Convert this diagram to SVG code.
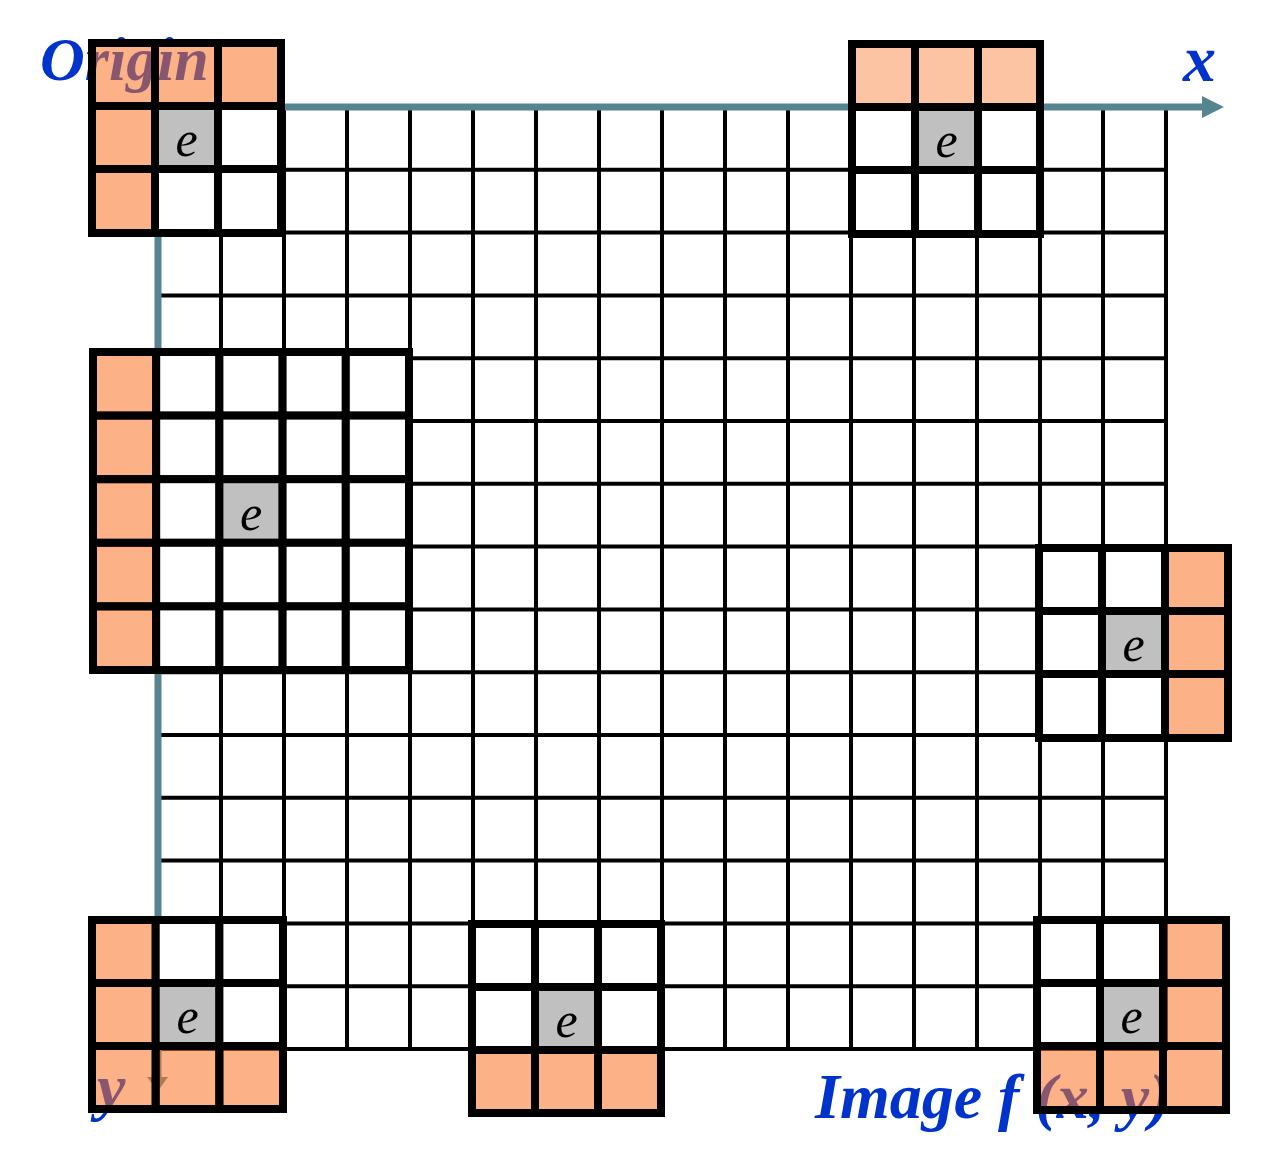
<svg xmlns="http://www.w3.org/2000/svg" width="1264" height="1170" viewBox="0 0 1264 1170">
<style>
.g{stroke:#000;stroke-width:4;fill:none}
.ax{stroke:#568490;stroke-width:7;fill:none}
.ah{fill:#568490}
.lbl{font-family:"Liberation Serif","Times New Roman",serif;font-weight:bold;font-style:italic;fill:#0033CC}
.c{stroke:#000;stroke-width:8}
.w{fill:#fff}
.o{fill:#F97323;fill-opacity:0.55}
.ol{fill:#F97323;fill-opacity:0.42}
.gr{fill:#C0C0C0}
.e{font-family:"Liberation Serif","Times New Roman",serif;font-style:italic;font-size:50px;fill:#000;text-anchor:middle}
</style>
<rect width="1264" height="1170" fill="#fff"/>
<g id="grid">
<path class="g" d="M221 107V1049M284 107V1049M347 107V1049M410 107V1049M473 107V1049M536 107V1049M599 107V1049M662 107V1049M725 107V1049M788 107V1049M851 107V1049M914 107V1049M977 107V1049M1040 107V1049M1103 107V1049M1166 107V1051"/>
<path class="g" d="M158 169.8H1166M158 232.6H1166M158 295.4H1166M158 358.2H1166M158 421H1166M158 483.8H1166M158 546.6H1166M158 609.4H1166M158 672.2H1166M158 735H1166M158 797.8H1166M158 860.6H1166M158 923.4H1166M158 986.2H1166M158 1049H1168"/>
</g>
<g id="connectors">
<path class="ax" d="M158 107H1205"/>
<polygon class="ah" points="1202,96 1224,107 1202,118"/>
<path class="ax" d="M158 107V1080"/>
<polygon class="ah" points="147,1077 158,1091 168,1077"/>
</g>
<g id="labels">
<text class="lbl" x="40" y="80" font-size="62">Origin</text>
<text class="lbl" x="1183" y="81" font-size="66">x</text>
<text class="lbl" x="97" y="1108" font-size="64">y</text>
<text class="lbl" x="815" y="1118" font-size="64">Image f (x, y)</text>
</g>
<g id="kernel-top-left" transform="translate(92,43)">
<rect class="c o" x="0" y="0" width="63" height="63"/><rect class="c o" x="63" y="0" width="63" height="63"/><rect class="c o" x="126" y="0" width="63" height="63"/>
<rect class="c o" x="0" y="63" width="63" height="63"/><rect class="c gr" x="63" y="63" width="63" height="63"/><rect class="c w" x="126" y="63" width="63" height="63"/>
<rect class="c o" x="0" y="126" width="63" height="64"/><rect class="c w" x="63" y="126" width="63" height="64"/><rect class="c w" x="126" y="126" width="63" height="64"/>
<text class="e" x="94.5" y="113">e</text>
</g>
<g id="kernel-top-right" transform="translate(852,44)">
<rect class="c ol" x="0" y="0" width="63" height="63"/><rect class="c ol" x="63" y="0" width="63" height="63"/><rect class="c ol" x="126" y="0" width="62" height="63"/>
<rect class="c w" x="0" y="63" width="63" height="63"/><rect class="c gr" x="63" y="63" width="63" height="63"/><rect class="c w" x="126" y="63" width="62" height="63"/>
<rect class="c w" x="0" y="126" width="63" height="64"/><rect class="c w" x="63" y="126" width="63" height="64"/><rect class="c w" x="126" y="126" width="62" height="64"/>
<text class="e" x="94.5" y="113">e</text>
</g>
<g id="kernel-mid-left" transform="translate(93,352)">
<rect class="c o" x="0" y="0" width="63.2" height="63.6"/><rect class="c w" x="63.2" y="0" width="63.2" height="63.6"/><rect class="c w" x="126.4" y="0" width="63.2" height="63.6"/><rect class="c w" x="189.6" y="0" width="63.2" height="63.6"/><rect class="c w" x="252.8" y="0" width="63.2" height="63.6"/>
<rect class="c o" x="0" y="63.6" width="63.2" height="63.6"/><rect class="c w" x="63.2" y="63.6" width="63.2" height="63.6"/><rect class="c w" x="126.4" y="63.6" width="63.2" height="63.6"/><rect class="c w" x="189.6" y="63.6" width="63.2" height="63.6"/><rect class="c w" x="252.8" y="63.6" width="63.2" height="63.6"/>
<rect class="c o" x="0" y="127.2" width="63.2" height="63.6"/><rect class="c w" x="63.2" y="127.2" width="63.2" height="63.6"/><rect class="c gr" x="126.4" y="127.2" width="63.2" height="63.6"/><rect class="c w" x="189.6" y="127.2" width="63.2" height="63.6"/><rect class="c w" x="252.8" y="127.2" width="63.2" height="63.6"/>
<rect class="c o" x="0" y="190.8" width="63.2" height="63.6"/><rect class="c w" x="63.2" y="190.8" width="63.2" height="63.6"/><rect class="c w" x="126.4" y="190.8" width="63.2" height="63.6"/><rect class="c w" x="189.6" y="190.8" width="63.2" height="63.6"/><rect class="c w" x="252.8" y="190.8" width="63.2" height="63.6"/>
<rect class="c o" x="0" y="254.4" width="63.2" height="63.6"/><rect class="c w" x="63.2" y="254.4" width="63.2" height="63.6"/><rect class="c w" x="126.4" y="254.4" width="63.2" height="63.6"/><rect class="c w" x="189.6" y="254.4" width="63.2" height="63.6"/><rect class="c w" x="252.8" y="254.4" width="63.2" height="63.6"/>
<text class="e" x="158" y="178">e</text>
</g>
<g id="kernel-mid-right" transform="translate(1039,548)">
<rect class="c w" x="0" y="0" width="63" height="63"/><rect class="c w" x="63" y="0" width="63" height="63"/><rect class="c o" x="126" y="0" width="63" height="63"/>
<rect class="c w" x="0" y="63" width="63" height="63"/><rect class="c gr" x="63" y="63" width="63" height="63"/><rect class="c o" x="126" y="63" width="63" height="63"/>
<rect class="c w" x="0" y="126" width="63" height="64"/><rect class="c w" x="63" y="126" width="63" height="64"/><rect class="c o" x="126" y="126" width="63" height="64"/>
<text class="e" x="94.5" y="113">e</text>
</g>
<g id="kernel-bottom-left" transform="translate(92,920)">
<rect class="c o" x="0" y="0" width="63.7" height="63"/><rect class="c w" x="63.7" y="0" width="63.7" height="63"/><rect class="c w" x="127.4" y="0" width="63.6" height="63"/>
<rect class="c o" x="0" y="63" width="63.7" height="63"/><rect class="c gr" x="63.7" y="63" width="63.7" height="63"/><rect class="c w" x="127.4" y="63" width="63.6" height="63"/>
<rect class="c o" x="0" y="126" width="63.7" height="63"/><rect class="c o" x="63.7" y="126" width="63.7" height="63"/><rect class="c o" x="127.4" y="126" width="63.6" height="63"/>
<text class="e" x="95.5" y="113">e</text>
</g>
<g id="kernel-bottom-middle" transform="translate(472,924)">
<rect class="c w" x="0" y="0" width="63" height="63"/><rect class="c w" x="63" y="0" width="63" height="63"/><rect class="c w" x="126" y="0" width="63" height="63"/>
<rect class="c w" x="0" y="63" width="63" height="63"/><rect class="c gr" x="63" y="63" width="63" height="63"/><rect class="c w" x="126" y="63" width="63" height="63"/>
<rect class="c o" x="0" y="126" width="63" height="63"/><rect class="c o" x="63" y="126" width="63" height="63"/><rect class="c o" x="126" y="126" width="63" height="63"/>
<text class="e" x="94.5" y="113">e</text>
</g>
<g id="kernel-bottom-right" transform="translate(1037,920)">
<rect class="c w" x="0" y="0" width="63" height="63"/><rect class="c w" x="63" y="0" width="63" height="63"/><rect class="c o" x="126" y="0" width="63" height="63"/>
<rect class="c w" x="0" y="63" width="63" height="63"/><rect class="c gr" x="63" y="63" width="63" height="63"/><rect class="c o" x="126" y="63" width="63" height="63"/>
<rect class="c o" x="0" y="126" width="63" height="64"/><rect class="c o" x="63" y="126" width="63" height="64"/><rect class="c o" x="126" y="126" width="63" height="64"/>
<text class="e" x="94.5" y="113">e</text>
</g>
</svg>
